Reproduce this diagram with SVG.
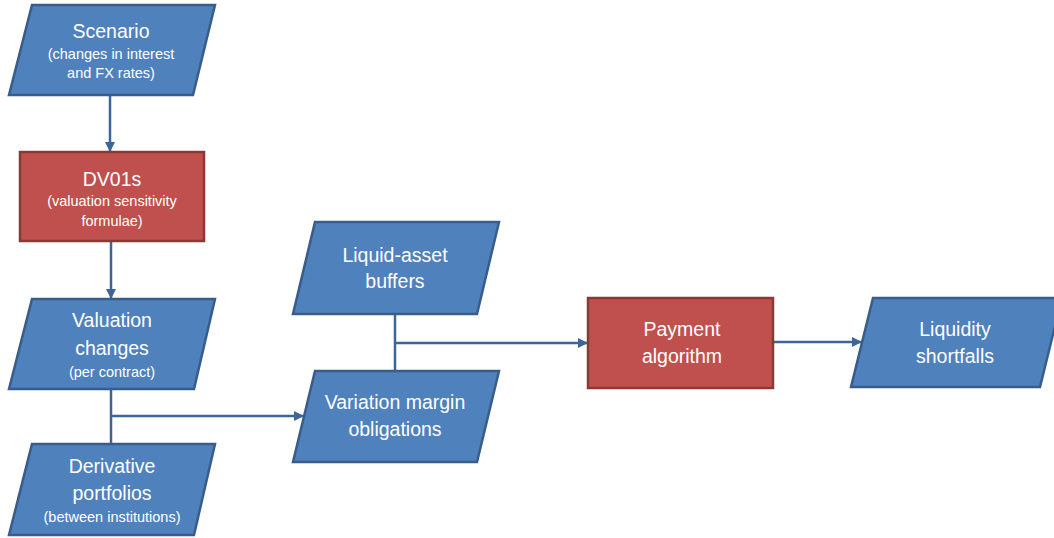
<svg xmlns="http://www.w3.org/2000/svg" width="1054" height="538" viewBox="0 0 1054 538">
<style>
.io{fill:#4F81BD;stroke:#385D8A;stroke-width:2.5;stroke-linejoin:miter}
.pr{fill:#C0504D;stroke:#8C3836;stroke-width:2.5}
text{font-family:"Liberation Sans",Arial,sans-serif;fill:#FFFFFF;text-anchor:middle}
.t{font-size:19.5px}
.s{font-size:14.5px}
.c{fill:none;stroke:#3C6599;stroke-width:2.5}
</style>
<defs>
<marker id="ah" viewBox="0 0 10 10" refX="10" refY="5" markerWidth="4" markerHeight="4" orient="auto" markerUnits="strokeWidth">
<path d="M0,0 L10,5 L0,10 z" fill="#3C6599"/>
</marker>
</defs>
<rect width="1054" height="538" fill="#FFFFFF"/>
<g id="connectors">
<line class="c" x1="110" y1="96" x2="110" y2="152" marker-end="url(#ah)"/>
<line class="c" x1="111" y1="241" x2="111" y2="299" marker-end="url(#ah)"/>
<line class="c" x1="111" y1="389" x2="111" y2="444"/>
<line class="c" x1="111" y1="416" x2="304" y2="416" marker-end="url(#ah)"/>
<line class="c" x1="395" y1="314" x2="395" y2="371"/>
<line class="c" x1="395" y1="343" x2="588" y2="343" marker-end="url(#ah)"/>
<line class="c" x1="773" y1="342" x2="862" y2="342" marker-end="url(#ah)"/>
</g>
<g id="scenario">
<polygon class="io" points="32,5 215,5 193,95 9,95"/>
<text class="t" x="111" y="38">Scenario</text>
<text class="s" x="111" y="59">(changes in interest</text>
<text class="s" x="111" y="78">and FX rates)</text>
</g>
<g id="dv01s">
<rect class="pr" x="20" y="152" width="184" height="89"/>
<text class="t" x="112" y="186">DV01s</text>
<text class="s" x="112" y="206">(valuation sensitivity</text>
<text class="s" x="112" y="226">formulae)</text>
</g>
<g id="valuation">
<polygon class="io" points="32,299 215,299 194,389 9,389"/>
<text class="t" x="112" y="327">Valuation</text>
<text class="t" x="112" y="355">changes</text>
<text class="s" x="112" y="377">(per contract)</text>
</g>
<g id="portfolios">
<polygon class="io" points="32,444 215,444 194,535 9,535"/>
<text class="t" x="112" y="473">Derivative</text>
<text class="t" x="112" y="500">portfolios</text>
<text class="s" x="112" y="522">(between institutions)</text>
</g>
<g id="buffers">
<polygon class="io" points="315,222 499,222 477,314 293,314"/>
<text class="t" x="395" y="262">Liquid-asset</text>
<text class="t" x="395" y="288">buffers</text>
</g>
<g id="variation">
<polygon class="io" points="315,371 499,371 477,462 293,462"/>
<text class="t" x="395" y="409">Variation margin</text>
<text class="t" x="395" y="436">obligations</text>
</g>
<g id="payment">
<rect class="pr" x="588" y="298" width="185" height="90"/>
<text class="t" x="682" y="336">Payment</text>
<text class="t" x="682" y="363">algorithm</text>
</g>
<g id="shortfalls">
<polygon class="io" points="873,298 1062,298 1040,387 851,387"/>
<text class="t" x="955" y="336">Liquidity</text>
<text class="t" x="955" y="363">shortfalls</text>
</g>
</svg>
